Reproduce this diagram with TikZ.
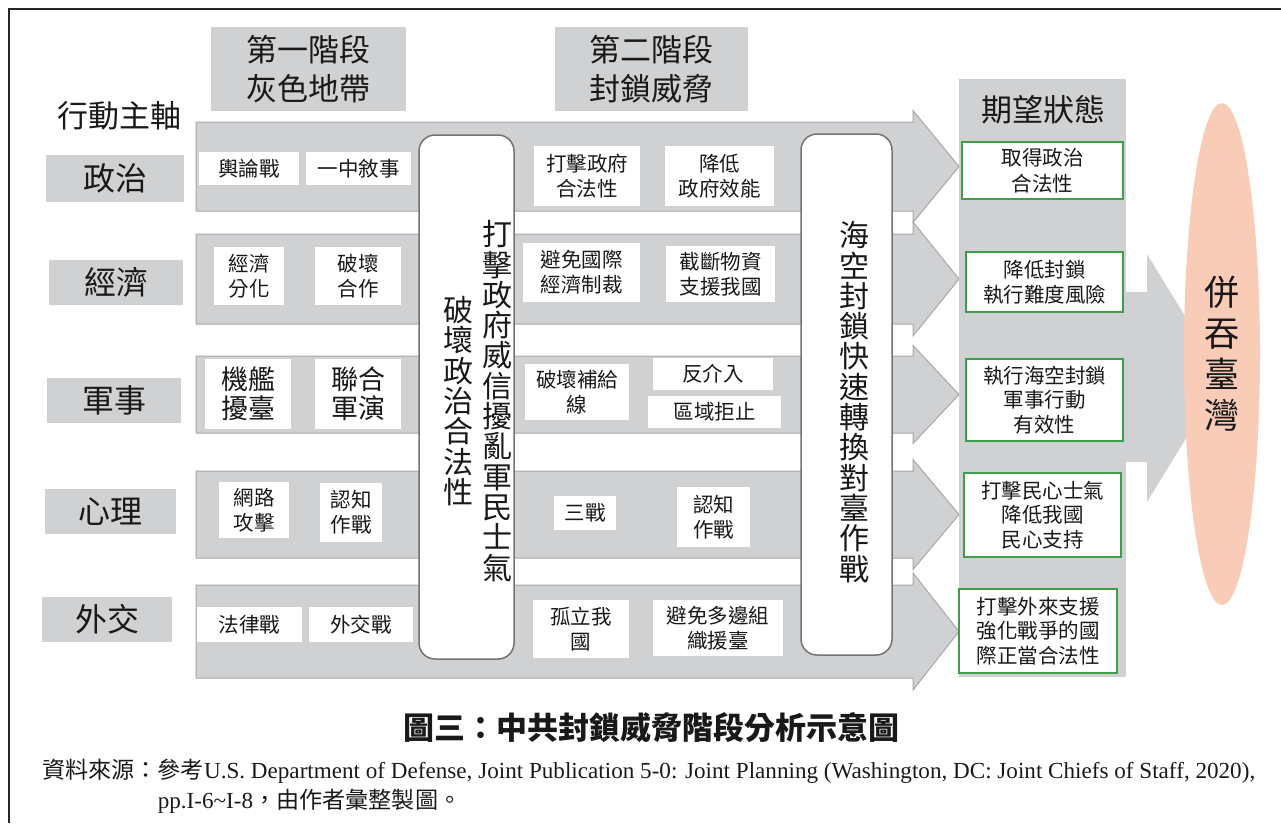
\documentclass[tikz,border=0pt]{standalone}
\usepackage{fontspec}
\usepackage{graphicx}
\setmainfont{Liberation Serif}
\newfontfamily\cjk{Noto Sans CJK TC}
\usetikzlibrary{shapes.geometric}
\definecolor{gfill}{RGB}{208,209,211}
\definecolor{bgray}{RGB}{165,167,170}
\definecolor{rgray}{RGB}{115,115,115}
\definecolor{ggreen}{RGB}{62,158,74}
\definecolor{peach}{RGB}{248,204,182}
\definecolor{ink}{RGB}{25,25,25}
\newcommand\vtfont{\cjk\fontsize{30}{30.3}\selectfont\lineskiplimit=-20pt\relax}
\newcommand\goalfont{\cjk\fontsize{35}{41}\selectfont\lineskiplimit=-20pt\relax}
% box from corner (x1,y1) to (x2,y2): style, name, x1, y1, x2, y2, text
\newcommand\bx[7]{\node[#1, minimum width={(#5)-(#3)}, minimum height={(#6)-(#4)}] (#2) at ({((#3)+(#5))/2},{((#4)+(#6))/2}) {#7};}
\begin{document}
\begin{tikzpicture}[x=1pt,y=-1pt,
  lbl/.style={fill=gfill, inner sep=0pt, text=ink, font=\cjk\fontsize{32}{38}\selectfont},
  hdr/.style={fill=gfill, inner sep=0pt, text=ink, align=center, font=\cjk\fontsize{31}{39}\selectfont},
  wbox/.style={fill=white, inner sep=0pt, text=ink, align=center, font=\cjk\fontsize{20.5}{25}\selectfont},
  wbig/.style={wbox, font=\cjk\fontsize{27}{29}\selectfont},
  gbox/.style={fill=white, draw=ggreen, line width=1.6pt, inner sep=0pt, text=ink, align=center, font=\cjk\fontsize{20.5}{24.5}\selectfont},
  gboxa/.style={gbox, font=\cjk\fontsize{20.5}{26}\selectfont},
  rbox/.style={fill=white, draw=rgray, line width=1.5pt, rounded corners=16pt, inner sep=0pt},
  vt/.style={inner sep=0pt, text=ink, align=center, font=\vtfont},
  bar/.style={fill=gfill, draw=bgray, line width=1pt},
]
\useasboundingbox (0,0) rectangle (1281,823);
% frame
\draw[line width=2.2pt, black!85] (9,823) -- (9,9) -- (1281,9);

% phase headers
\bx{hdr}{h1}{211}{27}{406}{111}{第一階段\\灰色地帶}
\bx{hdr}{h2}{555}{27}{748}{111}{第二階段\\封鎖威脅}
\node[inner sep=0pt, text=ink, font=\cjk\fontsize{31}{36}\selectfont] (axis) at (119,116) {行動主軸};

% row bars (arrows)
\draw[bar] (196,122) -- (913,122) -- (913,110.5) -- (959,166.5) -- (913,222.5) -- (913,211) -- (196,211) -- cycle;
\draw[bar] (196,234) -- (913,234) -- (913,222) -- (959,279) -- (913,336) -- (913,324) -- (196,324) -- cycle;
\draw[bar] (196,356) -- (913,356) -- (913,345.5) -- (959,394.5) -- (913,443.5) -- (913,433) -- (196,433) -- cycle;
\draw[bar] (196,471) -- (913,471) -- (913,459.5) -- (959,514.5) -- (913,569.5) -- (913,558) -- (196,558) -- cycle;
\draw[bar] (196,585) -- (913,585) -- (913,573) -- (959,631.5) -- (913,690) -- (913,678) -- (196,678) -- cycle;

% row labels
\bx{lbl}{l1}{46}{155}{184}{202}{政治}
\bx{lbl}{l2}{49}{260}{183}{305}{經濟}
\bx{lbl}{l3}{47}{378}{181}{423}{軍事}
\bx{lbl}{l4}{45}{489}{176}{534}{心理}
\bx{lbl}{l5}{42}{597}{172}{642}{外交}

% rounded vertical boxes
\bx{rbox}{p1}{419}{135}{514}{659}{}
\node[vt] (p1a) at (458,401) {破\\壞\\政\\治\\合\\法\\性};
\node[vt] (p1b) at (497,401) {打\\擊\\政\\府\\威\\信\\擾\\亂\\軍\\民\\士\\氣};
\bx{rbox}{p2}{801}{134}{892}{655}{}
\node[vt] (p2a) at (854,402) {海\\空\\封\\鎖\\快\\速\\轉\\換\\對\\臺\\作\\戰};

% phase 1 boxes
\bx{wbox}{a11}{199}{152}{299}{185}{輿論戰}
\bx{wbox}{a12}{306}{152}{411}{185}{一中敘事}
\bx{wbox}{a21}{214}{247}{284}{305}{經濟\\分化}
\bx{wbox}{a22}{315}{247}{401}{305}{破壞\\合作}
\bx{wbig}{a31}{205}{359}{291}{429}{機艦\\擾臺}
\bx{wbig}{a32}{315}{359}{401}{429}{聯合\\軍演}
\bx{wbox}{a41}{219}{482}{289}{538}{網路\\攻擊}
\bx{wbox}{a42}{320}{483}{382}{542}{認知\\作戰}
\bx{wbox}{a51}{197}{607}{302}{642}{法律戰}
\bx{wbox}{a52}{309}{607}{413}{642}{外交戰}

% phase 2 boxes
\bx{wbox}{b11}{534}{146}{640}{206}{打擊政府\\合法性}
\bx{wbox}{b12}{665}{146}{774}{206}{降低\\政府效能}
\bx{wbox}{b21}{523}{243}{640}{302}{避免國際\\經濟制裁}
\bx{wbox}{b22}{666}{246}{775}{302}{截斷物資\\支援我國}
\bx{wbox}{b31}{525}{364}{629}{420}{破壞補給\\線}
\bx{wbox}{b32}{653}{358}{773}{390}{反介入}
\bx{wbox}{b33}{648}{396}{781}{428}{區域拒止}
\bx{wbox}{b41}{554}{496}{616}{530}{三戰}
\bx{wbox}{b42}{677}{487}{750}{547}{認知\\作戰}
\bx{wbox}{b51}{533}{600}{629}{658}{孤立我\\國}
\bx{wbox}{b52}{653}{600}{783}{656}{避免多邊組\\織援臺}

% desired state column
\fill[gfill] (959,79) rectangle (1126,677);
\node[inner sep=0pt, text=ink, font=\cjk\fontsize{31}{36}\selectfont] (ds) at (1043,110) {期望狀態};
\bx{gboxa}{g1}{962}{142}{1123}{199}{取得政治\\合法性}
\bx{gbox}{g2}{966}{252}{1123}{312}{降低封鎖\\執行難度風險}
\bx{gbox}{g3}{966}{359}{1123}{441}{執行海空封鎖\\軍事行動\\有效性}
\bx{gbox}{g4}{964}{473}{1121}{557}{打擊民心士氣\\降低我國\\民心支持}
\bx{gbox}{g5}{959}{589}{1117}{673}{打擊外來支援\\強化戰爭的國\\際正當合法性}

% big arrow to the goal
\fill[gfill] (1126,292) -- (1147,292) -- (1147,254) -- (1223,378) -- (1147,502) -- (1147,462) -- (1126,462) -- cycle;
\node[ellipse, fill=peach, inner sep=0pt, minimum width=76pt, minimum height=502pt, text=ink, align=center,
      font=\goalfont] (goal) at (1222,354) {併\\吞\\臺\\灣};

% caption
\node[inner sep=0pt, text=ink, font=\cjk\bfseries\fontsize{31}{36}\selectfont] (cap) at (651,728) {圖三：中共封鎖威脅階段分析示意圖};
\node[anchor=west, inner sep=0pt, text=ink] (src) at (42,787) {\resizebox{1213pt}{\height}{\fontsize{23}{30}\selectfont
  \begin{tabular}{@{}l@{}l@{}}
  {\cjk 資料來源：}&{\cjk 參考}U.S. Department of Defense, Joint Publication 5-0: Joint Planning (Washington, DC: Joint Chiefs of Staff, 2020),\\
  &pp.I-6\textasciitilde I-8{\cjk ，由作者彙整製圖。}
  \end{tabular}}};
\end{tikzpicture}
\end{document}
